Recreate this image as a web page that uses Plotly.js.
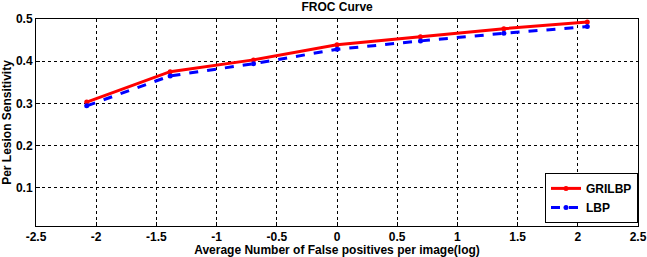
<!DOCTYPE html>
<html>
<head>
<meta charset="utf-8">
<script src="https://cdn.plot.ly/plotly-3.0.1.min.js"></script>
<style>html,body{margin:0;padding:0;background:#fff;}#chart{width:647px;height:257px;}</style>
</head>
<body>
<div id="chart"></div>
<script>
var fpLog = [-2.079, -1.386, -0.693, 0, 0.693, 1.386, 2.079];
var grilbp = [0.303, 0.375, 0.403, 0.439, 0.458, 0.477, 0.493];
var lbp = [0.294, 0.365, 0.394, 0.428, 0.448, 0.466, 0.482];
var xTicks = [-2.5, -2, -1.5, -1, -0.5, 0, 0.5, 1, 1.5, 2, 2.5];
var xTickText = ['-2.5', '-2', '-1.5', '-1', '-0.5', '0', '0.5', '1', '1.5', '2', '2.5'];
var yTicks = [0.1, 0.2, 0.3, 0.4, 0.5];
var yTickText = ['0.1', '0.2', '0.3', '0.4', '0.5'];

var fontFam = 'Liberation Sans, Arial, sans-serif';
var traces = [
  {x: fpLog, y: grilbp, name: 'GRILBP', type: 'scatter', mode: 'lines+markers',
   line: {color: '#ff0000', width: 3}, marker: {color: '#ff0000', size: 5}},
  {x: fpLog, y: lbp, name: 'LBP', type: 'scatter', mode: 'lines+markers',
   line: {color: '#0000ff', width: 3, dash: 'dash'}, marker: {color: '#0000ff', size: 5}}
];
var axisCommon = {
  showline: true, linecolor: '#000', linewidth: 1, mirror: true,
  ticks: 'inside', ticklen: 4, tickcolor: '#000',
  showgrid: true, gridcolor: '#000', griddash: 'dot', gridwidth: 1,
  zeroline: false,
  tickfont: {family: fontFam, size: 12, color: '#000', weight: 'bold'}
};
var layout = {
  width: 647, height: 257,
  margin: {l: 36, r: 9, t: 19, b: 31},
  paper_bgcolor: '#fff', plot_bgcolor: '#fff',
  title: {text: '<b>FROC Curve</b>', x: 0.521, xanchor: 'center', y: 0.99, yanchor: 'top',
          font: {family: fontFam, size: 12, color: '#000'}},
  xaxis: Object.assign({}, axisCommon, {
    range: [-2.5, 2.5], tickvals: xTicks, ticktext: xTickText,
    title: {text: '<b>Average Number of False positives per image(log)</b>', standoff: 1,
            font: {family: fontFam, size: 12, color: '#000'}}
  }),
  yaxis: Object.assign({}, axisCommon, {
    range: [0.009, 0.5], tickvals: yTicks, ticktext: yTickText,
    title: {text: '<b>Per Lesion Sensitivity</b>', standoff: 3,
            font: {family: fontFam, size: 12, color: '#000'}}
  }),
  showlegend: true,
  legend: {x: 1, xanchor: 'right', y: 0.015, yanchor: 'bottom',
           bgcolor: '#fff', bordercolor: '#000', borderwidth: 1,
           font: {family: fontFam, size: 12, color: '#000', weight: 'bold'},
           tracegroupgap: 0, itemwidth: 30}
};
Plotly.newPlot('chart', traces, layout, {displayModeBar: false, staticPlot: true});
</script>
</body>
</html>
